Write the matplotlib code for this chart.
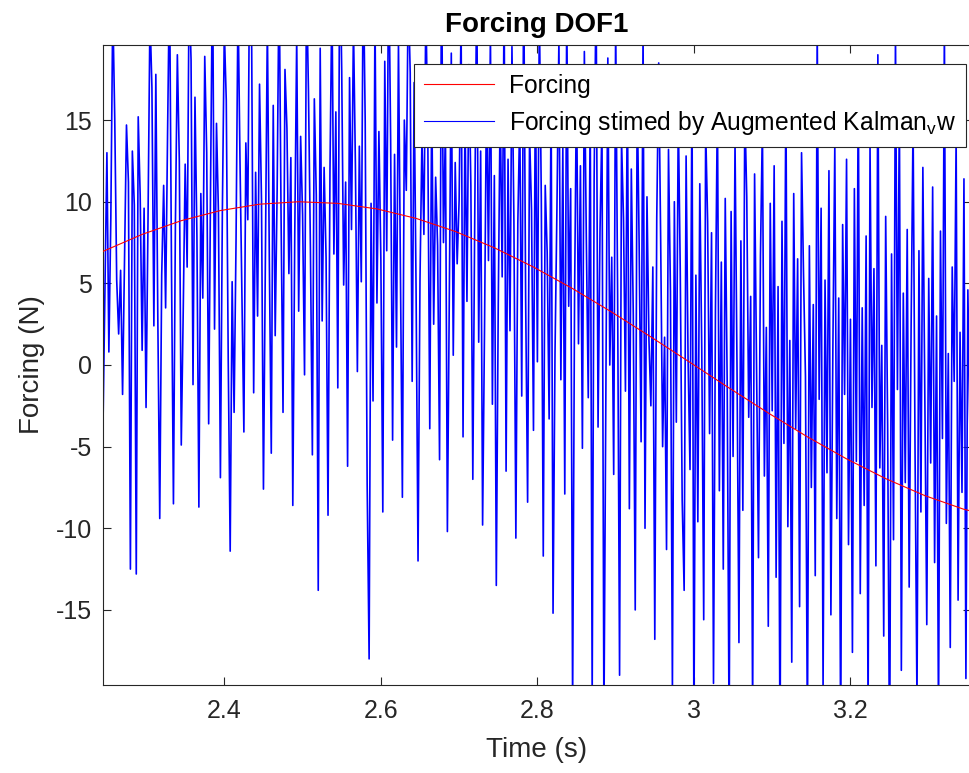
import numpy as np
import matplotlib.pyplot as plt

plt.rcParams['font.family'] = ['Liberation Sans', 'DejaVu Sans']
plt.rcParams['mathtext.fontset'] = 'custom'
plt.rcParams['mathtext.rm'] = 'Liberation Sans'
plt.rcParams['axes.unicode_minus'] = False

# time span of the record (s)
t_start = 2.245
dt_est = 0.0025

# true forcing, read every 0.05 s
force_true = [6.96, 8.00, 8.84, 9.46, 9.85, 10.0, 9.90, 9.56, 8.98, 8.18, 7.18, 6.00,
              4.68, 3.24, 1.72, 0.16, -1.41, -2.94, -4.40, -5.75, -6.96, -8.00, -8.84, -9.40]

# forcing estimated by the augmented Kalman filter (noisy), every 2.5 ms
force_est = [
    # 2.245 - 2.645 s
    -3.7, 4.5, 13.0, 0.8, 9.0, 22.0, 15.1, 5.2, 1.9, 5.8, -1.8, 6.3, 14.7, 11.2, -12.5, 13.1, 9.8, -12.8, 15.2, 10.4,
    0.9, 9.6, -2.6, 8.8, 21.5, 17.0, 2.4, 17.8, 3.1, -9.4, 5.5, 11.0, 3.5, 14.2, 24.0, 6.0, -8.5, 8.6, 19.0, 12.5,
    -4.9, 3.3, 12.3, 6.0, 23.1, 18.7, -1.2, 16.4, 7.9, -8.7, 10.5, 4.1, 18.9, 13.0, -3.6, 11.4, 25.0, 2.2, 14.8, 9.3,
    -6.9, 9.4, 20.5, 16.2, 0.3, -11.4, 5.1, -2.9, 7.7, 22.4, 12.6, 4.4, -4.1, 13.6, 8.9, 26.0, 19.3, -1.7, 11.8, 3.0,
    17.2, 10.1, -7.6, 6.4, 21.0, 6.5, -5.4, 15.9, 1.8, 10.7, 24.3, 9.1, -2.9, 18.1, 14.5, 5.6, 12.7, -8.6, 8.0, 20.2,
    3.3, 14.0, 9.2, -0.6, 23.5, 16.8, 7.2, -5.5, 16.3, 10.4, -13.8, 19.4, 2.7, 12.1, 6.6, -9.2, 11.9, 22.8, 6.8, 15.5,
    -1.4, 26.5, 18.0, 4.9, 11.2, -6.2, 17.6, 8.3, 20.9, 12.2, -0.4, 13.4, 5.1, 24.7, 14.9, -7.3, -18.0, 9.9, -2.2, 21.7,
    3.8, 14.3, 6.5, -9.0, 18.6, 7.0, 25.3, 13.8, -4.6, 12.9, 1.1, 19.8, 6.1, -8.1, 15.0, 10.7, 23.0, 17.9, -1.0, 17.3,
    # 2.645 - 2.945 s
    4.6, -12.0, 5.2, 13.9, 8.0, 22.1, 14.0, -3.9, 16.7, 2.5, 11.5, 7.3, -5.8, 24.9, 7.5, 14.6, -10.2, 4.4, 19.1, 0.6,
    12.4, 6.2, 10.1, 21.3, -4.4, 15.6, 3.9, 18.4, 11.0, -7.0, 9.3, 23.7, 1.4, 13.1, -9.8, 2.5, 17.0, 6.4, 20.4, -2.4,
    11.6, -13.5, 3.7, 16.2, 5.4, 22.6, -6.5, 12.6, 2.1, 19.5, 8.8, -10.6, 8.7, 15.3, -1.9, 24.1, 4.0, -8.4, 14.2, 9.5,
    -4.0, 18.0, 0.2, 21.9, 10.2, -11.7, 11.0, 6.9, -3.3, 16.6, -15.2, 0.7, 9.7, 20.0, -0.9, 13.3, -7.9, 22.3, 3.6, 10.8,
    -21.0, 4.2, 17.5, 1.3, 12.2, -5.1, 19.2, 7.8, -2.0, 15.8, -20.5, 11.4, 23.3, -3.8, 8.2, 14.9, -22.0, -2.0, 18.8, 0.0,
    6.6, -6.7, 21.2, 4.3, -19.0, 13.8, 9.0, -1.6, 17.9, -8.8, 12.0, 3.1, -15.0, 16.8, 7.4, -4.7, 20.6, -10.0, 10.3, 1.6,
    # 2.945 - 3.3625 s
    -2.5, 6.0, -16.8, 9.0, 18.5, 7.7, -5.0, 1.7, -11.3, 13.2, 4.5, -20.0, 10.0, -3.5, 15.4, 5.9, -8.3, -13.8, 12.8, 0.4,
    -6.4, 17.4, -22.5, 5.5, -9.6, 11.1, 1.0, -15.6, 14.5, 8.8, -4.2, 8.1, -19.5, 3.4, 16.2, -7.7, 6.3, -12.5, 10.2, -1.1,
    -23.0, 9.4, -5.6, 13.7, 0.1, -17.0, 7.6, -8.9, 15.7, 10.3, -3.2, 4.2, -21.5, 11.7, -0.2, -11.8, 6.7, 14.8, -6.8, 2.3,
    -16.0, 9.9, -2.8, 12.2, -13.0, 4.8, -24.0, 8.8, -4.8, 16.9, -9.9, 1.5, -18.2, 10.5, -3.9, 6.5, -14.8, 13.0, 5.6, -0.7,
    -22.8, 7.3, -7.5, 3.7, -12.9, 21.0, -2.1, 9.6, -19.8, 5.2, -6.6, 11.9, -15.3, 0.9, 13.5, -9.4, 4.1, -23.5, 8.6, -1.8,
    12.6, -11.0, 2.8, -17.6, 10.8, -5.9, 17.6, -14.0, 3.5, -8.6, 7.9, -21.8, 13.4, -2.6, 5.9, -12.3, 19.0, -6.3, 1.2, -16.6,
    9.1, -3.7, -25.0, 6.8, -10.7, 20.5, -1.5, 15.8, -18.7, 4.4, -7.2, 8.3, -13.6, 2.4, 15.0, -5.2, -20.8, 7.0, -9.0, 12.1,
    -2.3, -15.9, 5.3, -6.0, 10.9, -12.1, 3.0, -22.2, 8.2, -4.5, 20.8, -9.7, 0.7, -17.3, 6.0, -1.0, 14.0, -14.4, 2.0, -7.8,
    11.4, -19.2, 4.6, -3.6, -11.5, 7.2, -2.2, 1.3,
]

t_true = t_start + 0.05 * np.arange(len(force_true))
t_est = t_start + dt_est * np.arange(len(force_est))

fig = plt.figure(figsize=(9.69, 7.73), dpi=100)
ax = fig.add_axes([103 / 969, 88 / 773, 868 / 969, 640 / 773])

ax.plot(t_true, force_true, color='red', lw=0.8, zorder=3, label='Forcing')
ax.plot(t_est, force_est, color='blue', lw=1.2, zorder=2,
        label='Forcing stimed by Augmented Kalman$_\\mathregular{v}$w')

ax.set_xlim(2.245, 3.354)
ax.set_ylim(-19.6, 19.6)
ax.set_xticks([2.4, 2.6, 2.8, 3.0, 3.2])
ax.set_xticklabels(['2.4', '2.6', '2.8', '3', '3.2'])
ax.set_yticks([-15, -10, -5, 0, 5, 10, 15])

gray = '#262626'
for s in ax.spines.values():
    s.set_color(gray)
    s.set_linewidth(0.8)
ax.tick_params(direction='in', top=True, right=True, length=6, width=0.8,
               colors=gray, labelsize=18)
ax.tick_params(axis='x', pad=10)
ax.tick_params(axis='y', pad=8)

ax.set_xlabel('Time (s)', fontsize=20, color=gray, labelpad=10)
ax.set_ylabel('Forcing (N)', fontsize=20, color=gray, labelpad=8)
ax.set_title('Forcing DOF1', fontsize=20, fontweight='bold', pad=9)

leg = ax.legend(loc='upper right', bbox_to_anchor=(0.994, 0.970), borderaxespad=0,
                fontsize=17.7, fancybox=False, framealpha=1, edgecolor=gray,
                handlelength=2.85, handletextpad=0.6, borderpad=0.4, labelspacing=0.45)
leg.get_frame().set_linewidth(0.8)
leg.legend_handles[1].set_linewidth(0.8)
leg.set_zorder(5)

fig.savefig('out.png', dpi=100)
